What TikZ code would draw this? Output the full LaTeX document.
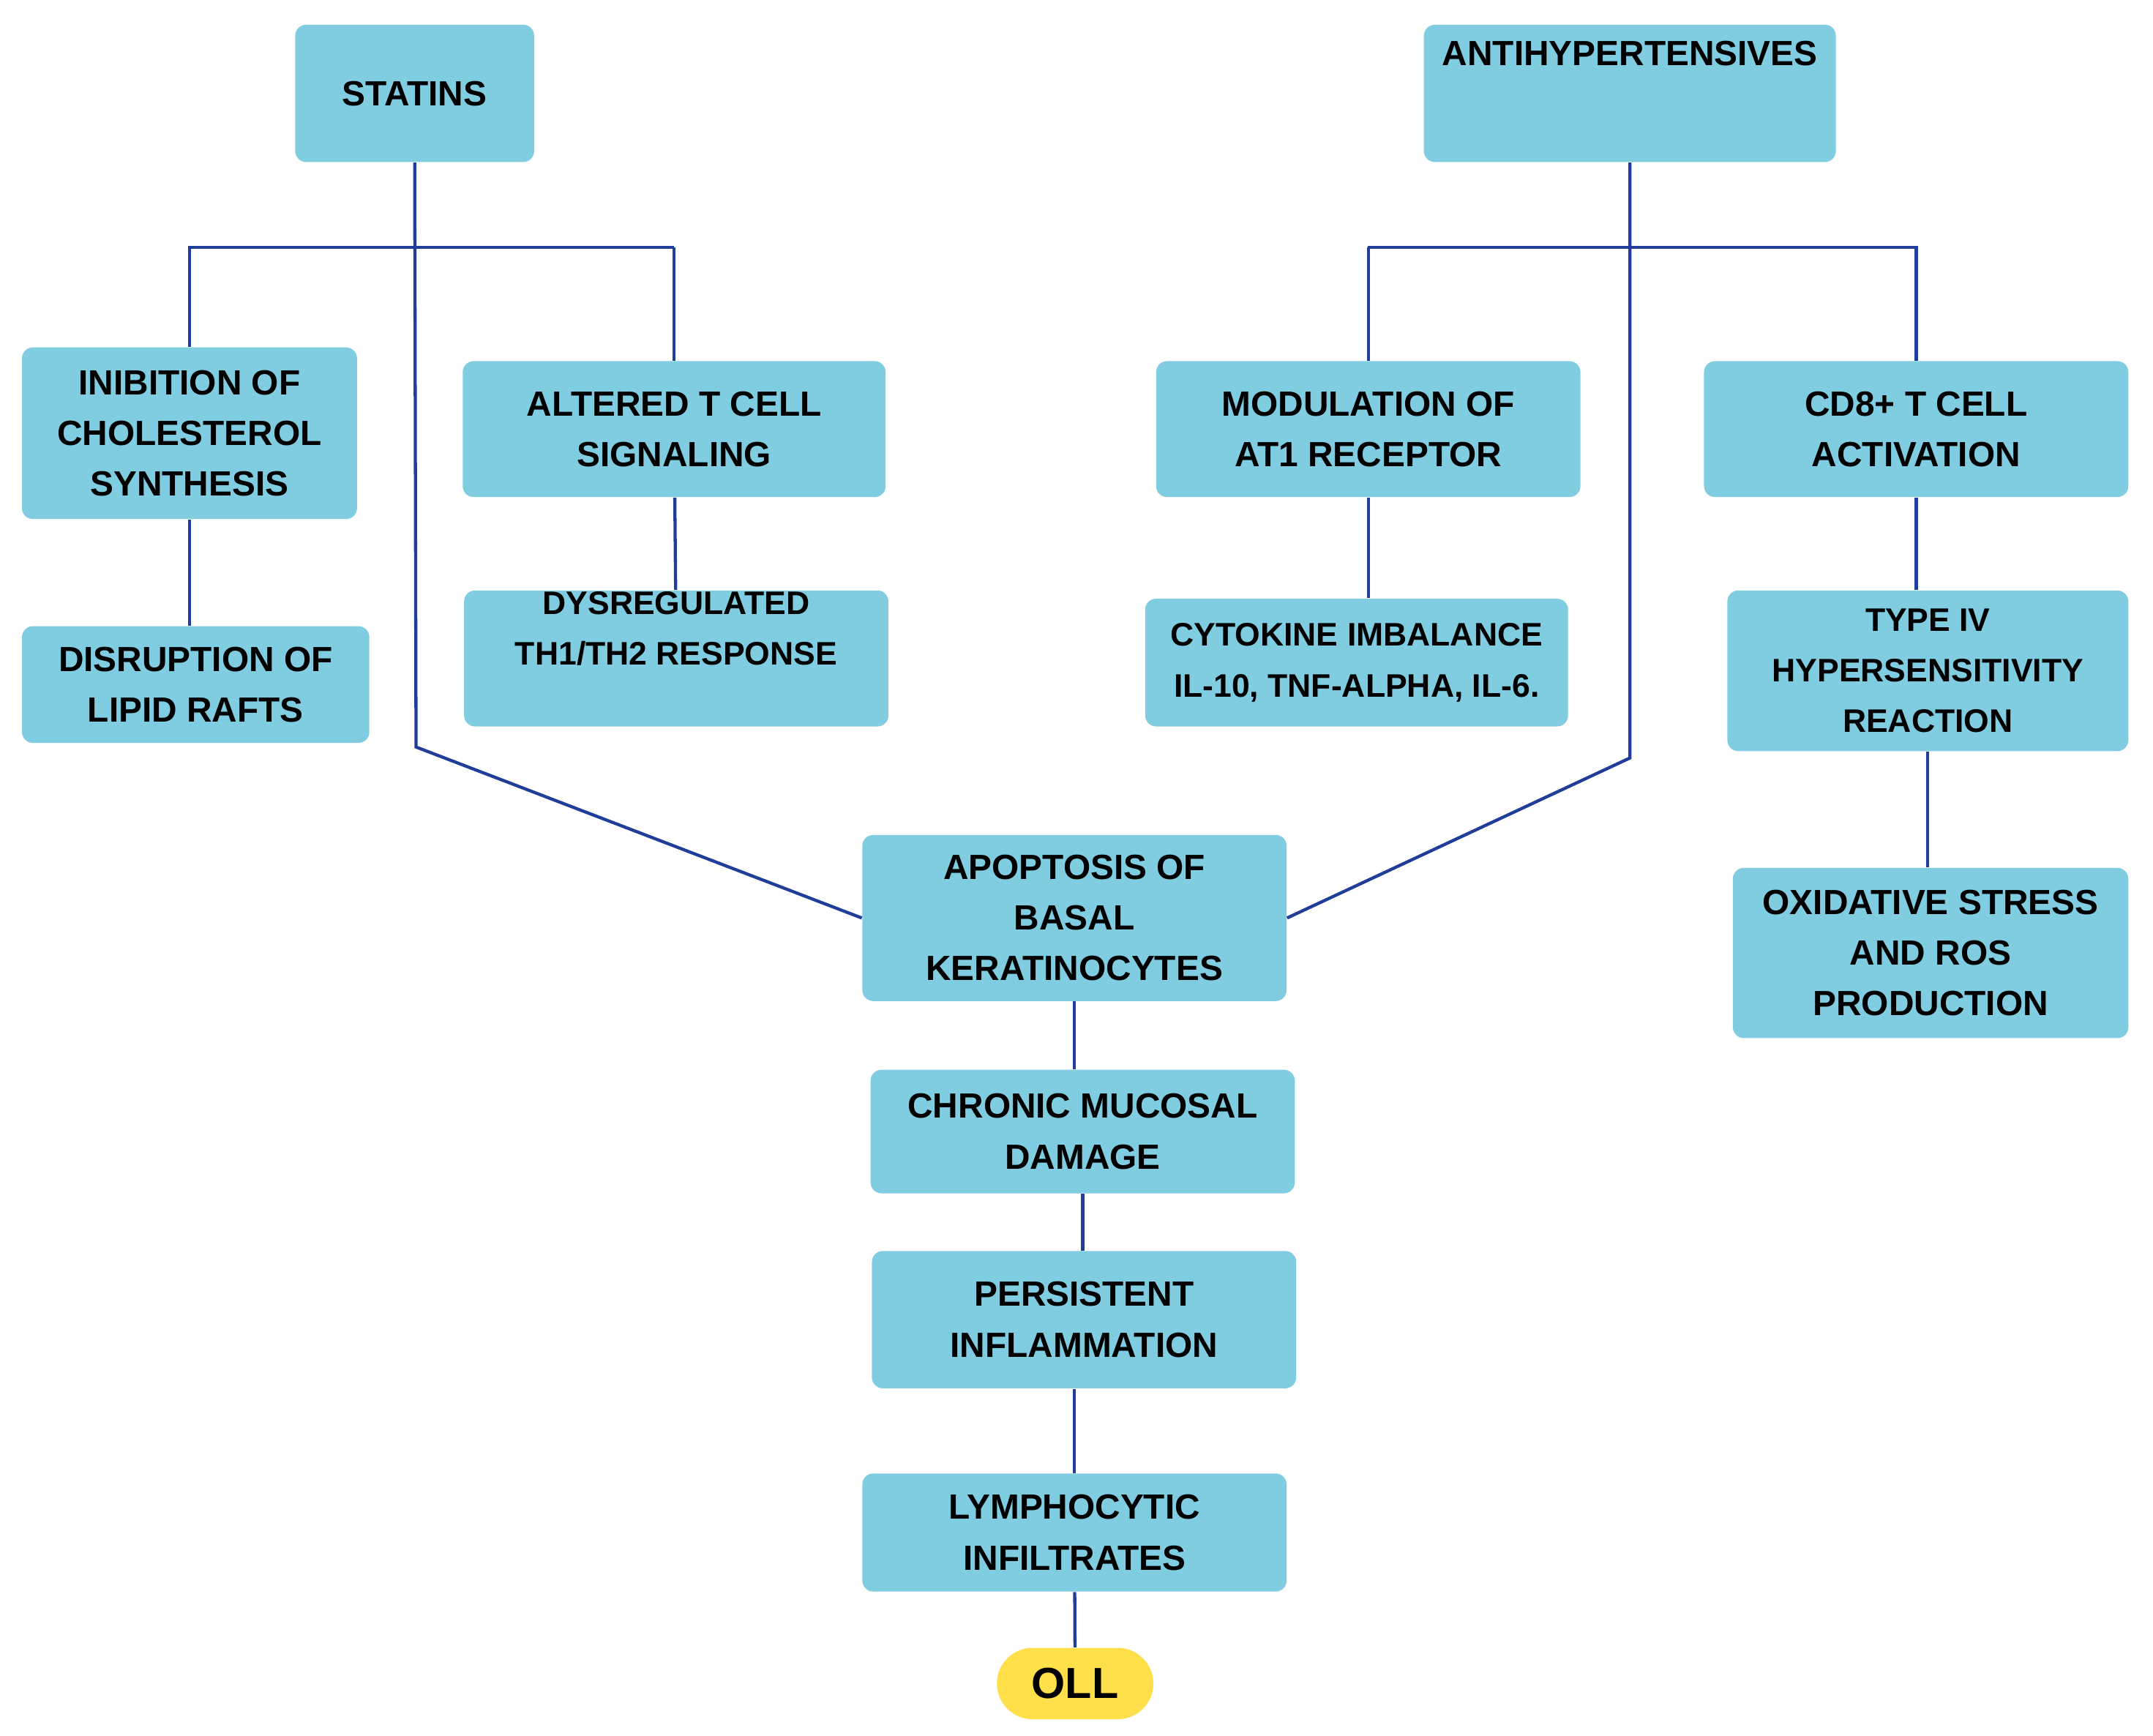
\documentclass[tikz,border=0pt]{standalone}
\usepackage{fontspec}
\setmainfont{Liberation Sans}
\begin{document}
\begin{tikzpicture}[x=0.02cm,y=-0.02cm,
 box/.style={fill=boxc,draw=none,rounded corners=0.16cm,align=center,inner sep=0pt,font=\bfseries\fontsize{14.5}{21}\selectfont},
 ln/.style={draw=linec,line width=1.3pt}]
\definecolor{boxc}{HTML}{80CCE0}
\definecolor{linec}{HTML}{1F3D99}
\definecolor{ollc}{HTML}{FFE04A}
\useasboundingbox (0,0) rectangle (1568,1264);
\newcommand\bx[6]{\pgfmathsetmacro\w{(#4-#2)*0.02}\pgfmathsetmacro\h{(#5-#3)*0.02}\node[box,minimum width=\w cm,minimum height=\h cm] (#1) at ({(#2+#4)/2},{(#3+#5)/2}) {#6};}
\bx{stat}{215}{18}{389}{118}{STATINS}
\bx{anti}{1037}{18}{1337}{118}{ANTIHYPERTENSIVES\\[12pt]}
\bx{inib}{16}{253}{260}{378}{INIBITION OF\\CHOLESTEROL\\SYNTHESIS}
\bx{alt}{337}{263}{645}{362}{ALTERED T CELL\\SIGNALING}
\bx{mod}{842}{263}{1151}{362}{MODULATION OF\\AT1 RECEPTOR}
\bx{cd}{1241}{263}{1550}{362}{CD8+ T CELL\\ACTIVATION}
\bx{dis}{16}{456}{269}{541}{DISRUPTION OF\\LIPID RAFTS}
\bx{dys}{338}{430}{647}{529}{\fontsize{13.5}{34}\selectfont DYSREGULATED\\\fontsize{13.5}{34}\selectfont TH1/TH2 RESPONSE\\[4pt]}
\bx{cyt}{834}{436}{1142}{529}{\fontsize{13.5}{34}\selectfont CYTOKINE IMBALANCE\\\fontsize{13.5}{34}\selectfont IL-10, TNF-ALPHA, IL-6.}
\bx{typ}{1258}{430}{1550}{547}{\fontsize{13.5}{34}\selectfont TYPE IV\\\fontsize{13.5}{34}\selectfont HYPERSENSITIVITY\\\fontsize{13.5}{34}\selectfont REACTION}
\bx{oxi}{1262}{632}{1550}{756}{OXIDATIVE STRESS\\AND ROS\\PRODUCTION}
\bx{apo}{628}{608}{937}{729}{APOPTOSIS OF\\BASAL\\KERATINOCYTES}
\bx{chr}{634}{779}{943}{869}{CHRONIC MUCOSAL\\DAMAGE}
\bx{per}{635}{911}{944}{1011}{PERSISTENT\\INFLAMMATION}
\bx{lym}{628}{1073}{937}{1159}{LYMPHOCYTIC\\INFILTRATES}
\node[fill=ollc,rounded corners=0.52cm,minimum width=2.28cm,minimum height=1.04cm,inner sep=0pt,font=\bfseries\fontsize{18}{20}\selectfont] (oll) at (783,1226) {OLL};
\coordinate (sb) at (303,544);
\coordinate (ab) at (1187,552);
\coordinate (b1) at (137,180);
\coordinate (b2) at (491,180);
\coordinate (b3) at (996,180);
\coordinate (b4) at (1397,180);
\draw[ln] (stat.south) -- (sb) -- (apo.west);
\draw[ln] (anti.south) -- (ab) -- (apo.east);
\draw[ln] (b1) -- (b2) (b3) -- (b4);
\draw[ln] (inib.north) -- (inib.north |- b1);
\draw[ln] (alt.north) -- (alt.north |- b2);
\draw[ln] (mod.north) -- (mod.north |- b3);
\draw[ln] (cd.north) -- (cd.north |- b4);
\draw[ln] (inib) -- (dis.north -| inib);
\draw[ln] (alt) -- (dys);
\draw[ln] (mod) -- (mod |- cyt.north);
\draw[ln] (cd) -- (cd |- typ.north);
\draw[ln] (typ) -- (typ |- oxi.north);
\draw[ln] (apo) -- (apo |- chr.north);
\draw[ln] (chr) -- (chr |- per.north);
\draw[ln] (per.south -| lym) -- (lym);
\draw[ln] (lym) -- (oll);
\end{tikzpicture}
\end{document}
